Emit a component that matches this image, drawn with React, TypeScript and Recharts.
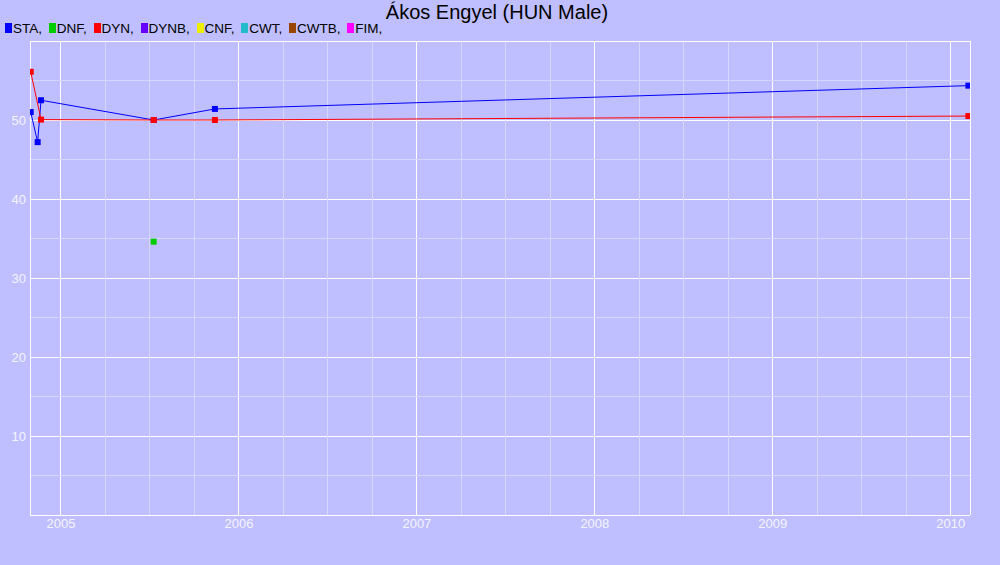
import React from "react";
import { LineChart, Line, XAxis, YAxis, CartesianGrid, ReferenceLine } from "recharts";

// chart text
const TITLE = "Ákos Engyel (HUN Male)";
const LEGEND_NAMES = ["STA", "DNF", "DYN", "DYNB", "CNF", "CWT", "CWTB", "FIM"];
const LEGEND_COLORS = ["#0000ff", "#00cc00", "#ff0000", "#6600ff", "#eeee00", "#22bbcc", "#994400", "#ff00ff"];

// series (x = decimal year)
const STA_DATES = [2004.830, 2004.869, 2004.888, 2005.521, 2005.865, 2010.099];
const STA_VALUES = [51.0, 47.2, 52.5, 50.0, 51.4, 54.35];
const DYN_DATES = [2004.830, 2004.888, 2005.521, 2005.865, 2010.099];
const DYN_VALUES = [56.1, 50.05, 50.0, 50.0, 50.5];
const DNF_DATES = [2005.521];
const DNF_VALUES = [34.6];

// axes
const YEAR_TICKS = [2005, 2006, 2007, 2008, 2009, 2010];
const QUARTER_LINES = [
  2005.25, 2005.5, 2005.75, 2006.25, 2006.5, 2006.75, 2007.25, 2007.5, 2007.75,
  2008.25, 2008.5, 2008.75, 2009.25, 2009.5, 2009.75,
];
const VALUE_TICKS = [10, 20, 30, 40, 50];
const HALF_LINES = [5, 15, 25, 35, 45, 55];
const X_DOMAIN = [2004.826, 2010.108];
const Y_DOMAIN = [0, 60];

const zip = (xs: number[], ys: number[]) => xs.map((x, i) => ({ x, y: ys[i] }));

const BG = "#bfbfff";
const GRID_MINOR = "#d6d6ff";
const FONT = "'Liberation Sans', Arial, sans-serif";
const TICK = { fill: "#f4f4ff", fontSize: 13, fontFamily: FONT };

const squareDot = (color: string) => (p: any) => (
  <rect key={`d${p.index}`} x={p.cx - 3} y={p.cy - 3} width={6} height={6} fill={color} />
);

export default function App() {
  const sta = zip(STA_DATES, STA_VALUES);
  const dyn = zip(DYN_DATES, DYN_VALUES);
  const dnf = zip(DNF_DATES, DNF_VALUES);

  return (
    <div style={{ position: "absolute", left: 0, top: 0, width: 1000, height: 565, background: BG, overflow: "hidden" }}>
      <div
        style={{
          position: "absolute", left: 0, top: 2, width: 994, textAlign: "center",
          fontFamily: FONT, fontSize: 20, lineHeight: "20px", color: "#000",
        }}
      >
        {TITLE}
      </div>
      <div
        style={{
          position: "absolute", left: 5, top: 22, whiteSpace: "pre",
          fontFamily: FONT, fontSize: 13.5, lineHeight: "13px", color: "#000",
        }}
      >
        {LEGEND_NAMES.map((name, i) => (
          <span key={name} style={{ marginRight: 3 }}>
            <span style={{ display: "inline-block", width: 7, height: 10, background: LEGEND_COLORS[i], marginRight: 1 }} />
            {`${name}, `}
          </span>
        ))}
      </div>

      <LineChart width={1000} height={565} margin={{ top: 41, right: 0, bottom: 20, left: 0 }}>
        {QUARTER_LINES.map((q) => (
          <ReferenceLine key={`q${q}`} x={q} stroke={GRID_MINOR} strokeWidth={1} shapeRendering="crispEdges" />
        ))}
        {HALF_LINES.map((h) => (
          <ReferenceLine key={`h${h}`} y={h} stroke={GRID_MINOR} strokeWidth={1} shapeRendering="crispEdges" />
        ))}
        <CartesianGrid stroke="#ffffff" strokeWidth={1} shapeRendering="crispEdges" />
        <ReferenceLine y={60} stroke="#ffffff" strokeWidth={1} shapeRendering="crispEdges" />
        <XAxis
          dataKey="x"
          type="number"
          domain={X_DOMAIN}
          ticks={YEAR_TICKS}
          allowDataOverflow
          height={30}
          tick={TICK}
          tickLine={false}
          tickSize={0}
          tickMargin={4}
          axisLine={{ stroke: "#ffffff", shapeRendering: "crispEdges" }}
        />
        <YAxis
          type="number"
          domain={Y_DOMAIN}
          ticks={VALUE_TICKS}
          width={30}
          tick={TICK}
          tickLine={false}
          tickSize={0}
          tickMargin={4}
          axisLine={{ stroke: "#ffffff", shapeRendering: "crispEdges" }}
        />
        <YAxis
          yAxisId="r"
          orientation="right"
          type="number"
          domain={Y_DOMAIN}
          ticks={VALUE_TICKS}
          width={30}
          tick={TICK}
          tickLine={false}
          tickSize={0}
          tickMargin={3}
          axisLine={{ stroke: "#ffffff", shapeRendering: "crispEdges" }}
        />
        <Line
          data={sta}
          dataKey="y"
          type="linear"
          stroke="#0000ff"
          strokeWidth={1}
          dot={squareDot("#0000ff")}
          activeDot={false}
          isAnimationActive={false}
        />
        <Line
          data={dyn}
          dataKey="y"
          type="linear"
          stroke="#ff0000"
          strokeWidth={1}
          dot={squareDot("#ff0000")}
          activeDot={false}
          isAnimationActive={false}
        />
        <Line
          data={dnf}
          dataKey="y"
          type="linear"
          stroke="#00cc00"
          strokeWidth={1}
          dot={squareDot("#00cc00")}
          activeDot={false}
          isAnimationActive={false}
        />
      </LineChart>
    </div>
  );
}
